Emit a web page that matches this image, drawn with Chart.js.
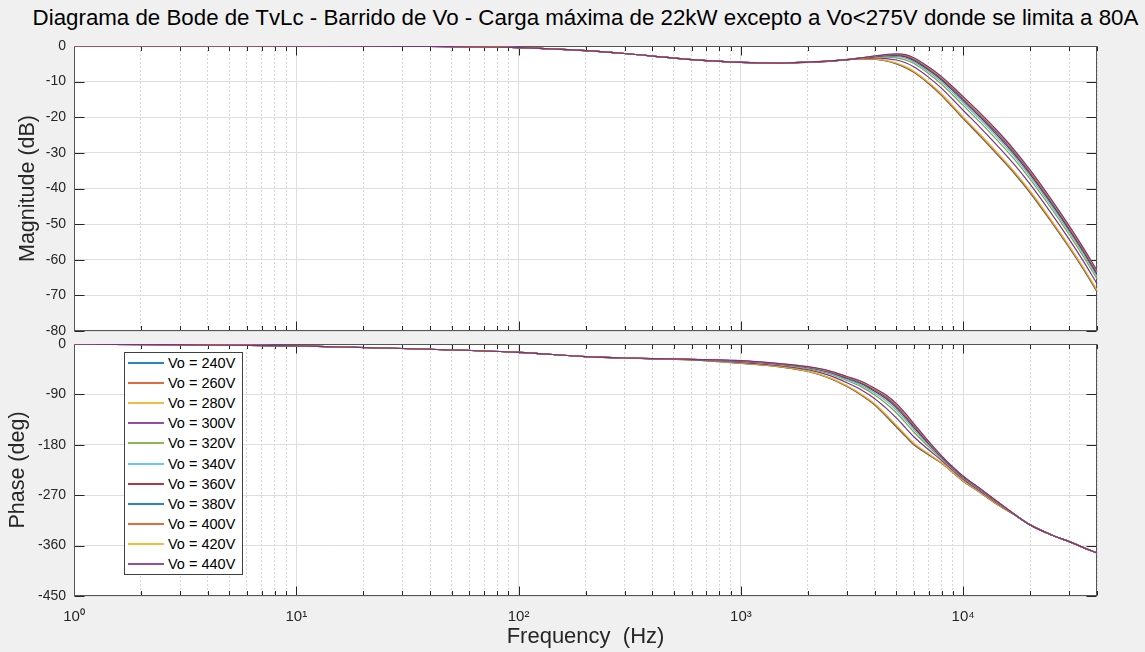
<!DOCTYPE html>
<html><head><meta charset="utf-8">
<script src="https://cdn.jsdelivr.net/npm/chart.js@4.4.1/dist/chart.umd.min.js"></script>
<style>
html,body{margin:0;padding:0;background:#f0f0f0;width:1145px;height:652px;overflow:hidden;font-family:"Liberation Sans",Arial,sans-serif;}
#title{position:absolute;left:0;width:1171px;top:5px;line-height:26px;text-align:center;font-size:22.3px;color:#000;white-space:nowrap;}
#c1{position:absolute;left:0;top:0;}
#c2{position:absolute;left:0;top:334px;}
#legend{position:absolute;left:124px;top:352px;width:117px;height:221px;background:#fff;border:1px solid #404040;box-sizing:content-box;}
.row{position:absolute;left:0;height:20px;width:117px;}
.row .ln{position:absolute;left:3px;width:36px;top:9px;height:2px;opacity:0.85;}
.row .tx{position:absolute;left:43px;top:1px;font-size:14.5px;line-height:18px;color:#000;white-space:nowrap;}
</style></head>
<body>
<div id="title">Diagrama de Bode de TvLc - Barrido de Vo - Carga máxima de 22kW excepto a Vo&lt;275V donde se limita a 80A</div>
<canvas id="c1" width="1145" height="340"></canvas>
<canvas id="c2" width="1145" height="318"></canvas>
<div id="legend"></div>
<script>
// ---------------- DATA ----------------
const freqHz = [1, 3, 10, 30, 100, 200, 300, 500, 700, 1000, 1500, 2000, 2500, 3000, 3500, 4000, 4500, 5000, 5500, 6000, 7000, 8000, 9000, 10000, 12000, 14000, 17000, 20000, 25000, 30000, 35000, 40000];

const seriesNames = ['Vo = 240V','Vo = 260V','Vo = 280V','Vo = 300V','Vo = 320V','Vo = 340V','Vo = 360V','Vo = 380V','Vo = 400V','Vo = 420V','Vo = 440V'];

// Magnitude (dB)
const mag240 = [0, 0, -0.02, -0.1, -0.45, -1.3, -2.1, -3.4, -4.1, -4.6, -4.8, -4.6, -4.3, -3.9, -3.6, -3.7, -4.2, -5.0, -6.1, -7.4, -10.6, -13.9, -17.3, -20.4, -25.5, -30.0, -35.8, -41.2, -49.5, -56.6, -63.0, -69.0];
const mag260 = [0, 0, -0.02, -0.1, -0.45, -1.3, -2.1, -3.4, -4.1, -4.6, -4.8, -4.6, -4.3, -3.9, -3.6, -3.67, -4.15, -4.92, -5.99, -7.28, -10.46, -13.74, -17.13, -20.21, -25.3, -29.8, -35.6, -41.0, -49.31, -56.42, -62.82, -68.82];
const mag280 = [0, 0, -0.02, -0.1, -0.45, -1.3, -2.1, -3.4, -4.1, -4.6, -4.8, -4.6, -4.3, -3.9, -3.58, -3.63, -4.06, -4.78, -5.8, -7.07, -10.22, -13.48, -16.84, -19.9, -24.98, -29.46, -35.27, -40.69, -49.0, -56.11, -62.52, -68.52];
const mag300 = [0, 0, -0.02, -0.1, -0.45, -1.3, -2.1, -3.4, -4.1, -4.6, -4.8, -4.56, -4.26, -3.86, -3.49, -3.36, -3.52, -3.94, -4.69, -5.84, -8.81, -11.89, -15.1, -18.04, -23.03, -27.45, -33.29, -38.77, -47.11, -54.28, -60.72, -66.72];
const mag320 = [0, 0, -0.02, -0.1, -0.45, -1.3, -2.1, -3.4, -4.1, -4.6, -4.8, -4.54, -4.24, -3.84, -3.42, -3.16, -3.12, -3.32, -3.88, -4.94, -7.78, -10.72, -13.82, -16.68, -21.6, -25.98, -31.84, -37.36, -45.72, -52.94, -59.4, -65.4];
const mag340 = [0, 0, -0.02, -0.1, -0.45, -1.3, -2.1, -3.4, -4.1, -4.6, -4.8, -4.53, -4.23, -3.83, -3.38, -3.05, -2.9, -2.98, -3.44, -4.45, -7.22, -10.08, -13.12, -15.94, -20.82, -25.18, -31.05, -36.59, -44.96, -52.21, -58.68, -64.68];
const mag360 = [0, 0, -0.02, -0.1, -0.45, -1.3, -2.1, -3.4, -4.1, -4.6, -4.8, -4.52, -4.22, -3.82, -3.35, -2.96, -2.72, -2.7, -3.07, -4.04, -6.75, -9.55, -12.54, -15.32, -20.17, -24.51, -30.39, -35.95, -44.33, -51.6, -58.08, -64.08];
const mag380 = [0, 0, -0.02, -0.1, -0.45, -1.3, -2.1, -3.4, -4.1, -4.6, -4.8, -4.51, -4.21, -3.81, -3.33, -2.9, -2.6, -2.51, -2.81, -3.75, -6.42, -9.18, -12.14, -14.88, -19.72, -24.04, -29.93, -35.5, -43.89, -51.17, -57.66, -63.66];
const mag400 = [0, 0, -0.02, -0.1, -0.45, -1.3, -2.1, -3.4, -4.1, -4.6, -4.8, -4.51, -4.21, -3.81, -3.32, -2.85, -2.51, -2.37, -2.62, -3.55, -6.18, -8.92, -11.85, -14.57, -19.39, -23.7, -29.6, -35.18, -43.58, -50.87, -57.36, -63.36];
const mag420 = [0, 0, -0.02, -0.1, -0.45, -1.3, -2.1, -3.4, -4.1, -4.6, -4.8, -4.5, -4.2, -3.8, -3.31, -2.83, -2.45, -2.28, -2.51, -3.42, -6.04, -8.76, -11.67, -14.39, -19.2, -23.5, -29.4, -34.99, -43.39, -50.68, -57.18, -63.18];
const mag440 = [0, 0, -0.02, -0.1, -0.45, -1.3, -2.1, -3.4, -4.1, -4.6, -4.8, -4.5, -4.2, -3.8, -3.3, -2.8, -2.4, -2.2, -2.4, -3.3, -5.9, -8.6, -11.5, -14.2, -19.0, -23.3, -29.2, -34.8, -43.2, -50.5, -57.0, -63.0];

// Phase (deg)
const ph240 = [-0.4, -1.1, -3.5, -8, -15, -22.5, -25, -27.5, -30, -34.5, -41, -49, -61, -76, -92, -109, -129, -148, -165, -180, -198, -213, -230, -245, -266, -285, -305, -323, -341, -353, -364, -373];
const ph260 = [-0.4, -1.1, -3.5, -8, -15, -22.5, -25, -27.5, -29.9, -34.4, -40.8, -48.7, -60.6, -75.5, -91.3, -108.1, -127.9, -146.7, -163.8, -178.9, -197.3, -212.6, -229.7, -244.7, -265.8, -284.8, -305, -323, -341, -353, -364, -373];
const ph280 = [-0.4, -1.1, -3.5, -8, -15, -22.5, -25, -27.4, -29.8, -34.1, -40.5, -48.3, -60, -74.6, -90, -106.6, -126, -144.6, -161.7, -177, -196.1, -212, -229.2, -244.3, -265.4, -284.5, -304.9, -323, -341, -353, -364, -373];
const ph300 = [-0.4, -1.1, -3.5, -8, -15, -22.5, -25, -27.1, -29.2, -32.7, -38.7, -45.8, -56.1, -69.2, -82.5, -97.6, -114.6, -132, -149.4, -165.6, -188.9, -208.1, -226.2, -241.6, -263.3, -282.7, -304.6, -323, -341, -353, -364, -373];
const ph320 = [-0.4, -1.1, -3.5, -8, -15, -22.5, -25, -26.9, -28.8, -31.7, -37.4, -43.9, -53.2, -65.2, -77, -91, -106.2, -122.8, -140.4, -157.2, -183.6, -205.2, -224, -239.6, -261.8, -281.4, -304.4, -323, -341, -353, -364, -373];
const ph340 = [-0.4, -1.1, -3.5, -8, -15, -22.5, -25, -26.8, -28.6, -31.1, -36.7, -42.9, -51.6, -63, -74, -87.4, -101.6, -117.8, -135.5, -152.6, -180.7, -203.6, -222.8, -238.5, -261, -280.7, -304.3, -323, -341, -353, -364, -373];
const ph360 = [-0.4, -1.1, -3.5, -8, -15, -22.5, -25, -26.7, -28.4, -30.6, -36.1, -42, -50.3, -61.2, -71.5, -84.4, -97.8, -113.6, -131.4, -148.8, -178.3, -202.3, -221.8, -237.6, -260.3, -280.1, -304.2, -323, -341, -353, -364, -373];
const ph380 = [-0.4, -1.1, -3.5, -8, -15, -22.5, -25, -26.6, -28.2, -30.3, -35.7, -41.4, -49.4, -60, -69.8, -82.3, -95.2, -110.6, -128.5, -146.2, -176.6, -201.4, -221.1, -237, -259.8, -279.7, -304.1, -323, -341, -353, -364, -373];
const ph400 = [-0.4, -1.1, -3.5, -8, -15, -22.5, -25, -26.6, -28.1, -30.1, -35.4, -41, -48.8, -59.1, -68.5, -80.8, -93.3, -108.5, -126.5, -144.3, -175.4, -200.8, -220.6, -236.5, -259.4, -279.4, -304.1, -323, -341, -353, -364, -373];
const ph420 = [-0.4, -1.1, -3.5, -8, -15, -22.5, -25, -26.5, -28.1, -29.9, -35.2, -40.8, -48.4, -58.5, -67.8, -79.9, -92.1, -107.3, -125.2, -143.1, -174.7, -200.4, -220.3, -236.3, -259.2, -279.2, -304, -323, -341, -353, -364, -373];
const ph440 = [-0.4, -1.1, -3.5, -8, -15, -22.5, -25, -26.5, -28, -29.8, -35, -40.5, -48, -58, -67, -79, -91, -106, -124, -142, -174, -200, -220, -236, -259, -279, -304, -323, -341, -353, -364, -373];

// Axis ticks / labels
const xMajorTicks = [1, 10, 100, 1000, 10000];
const xTickLabels = ['10\u2070', '10\u00b9', '10\u00b2', '10\u00b3', '10\u2074'];
const xMin = 1, xMax = 40000;
const magTicks = [0, -10, -20, -30, -40, -50, -60, -70, -80];
const phaseTicks = [0, -90, -180, -270, -360, -450];

const seriesColors = ['#0072BD','#D95319','#EDB120','#7E2F8E','#77AC30','#4DBEEE','#A2142F','#0072BD','#D95319','#EDB120','#7E2F8E'];

const magSeries = [mag240, mag260, mag280, mag300, mag320, mag340, mag360, mag380, mag400, mag420, mag440];
const phSeries = [ph240, ph260, ph280, ph300, ph320, ph340, ph360, ph380, ph400, ph420, ph440];

// ---------------- CHARTS ----------------
Chart.defaults.font.family = '"Liberation Sans", Arial, sans-serif';
Chart.defaults.color = '#262626';

function allXTicks() {
  const t = [];
  for (let d = 1; d <= 10000; d *= 10) {
    for (let k = 1; k <= 9; k++) { const v = d * k; if (v <= xMax) t.push(v); }
  }
  return t;
}
const isMajor = v => xMajorTicks.includes(v);

function makeDatasets(arrs) {
  return arrs.map((a, i) => ({
    label: seriesNames[i],
    data: freqHz.map((f, j) => ({x: f, y: a[j]})),
    borderColor: seriesColors[i],
    borderWidth: 1.2,
    pointRadius: 0,
    fill: false,
    cubicInterpolationMode: 'monotone',
    order: arrs.length - i
  }));
}

const boxPlugin = {
  id: 'matlabBox',
  beforeDraw(chart) {
    const {ctx, chartArea: a} = chart;
    ctx.save();
    ctx.fillStyle = '#ffffff';
    ctx.fillRect(a.left, a.top, a.right - a.left, a.bottom - a.top);
    ctx.restore();
  },
  beforeDatasetsDraw(chart) {
    const {ctx, chartArea: a, scales: {x, y}} = chart;
    ctx.save();
    ctx.strokeStyle = '#262626';
    ctx.lineWidth = 1;
    ctx.beginPath();
    const L = Math.round(a.left) + 0.5, R = Math.round(a.right) - 0.5;
    const T = Math.round(a.top) + 0.5, B = Math.round(a.bottom) - 0.5;
    x.ticks.forEach(t => {
      const px = Math.round(x.getPixelForValue(t.value)) + 0.5;
      const len = isMajor(t.value) ? 9 : 4.5;
      ctx.moveTo(px, B); ctx.lineTo(px, B - len);
      ctx.moveTo(px, T); ctx.lineTo(px, T + len);
    });
    y.ticks.forEach(t => {
      const py = Math.round(y.getPixelForValue(t.value)) + 0.5;
      ctx.moveTo(L, py); ctx.lineTo(L + 10, py);
      ctx.moveTo(R, py); ctx.lineTo(R - 10, py);
    });
    ctx.stroke();
    ctx.strokeStyle = '#555555';
    ctx.strokeRect(L, T, R - L, B - T);
    ctx.restore();
  }
};

const gridX = {
  color: c => (c.tick && isMajor(c.tick.value)) ? '#dedede' : '#d6d6d6',
  lineWidth: 1,
  drawTicks: false
};
const borderX = {
  display: false,
  dash: c => (c.tick && isMajor(c.tick.value)) ? [] : [2, 2]
};

function xScale(showLabels, fitH, withTitle) {
  return {
    type: 'logarithmic',
    min: xMin, max: xMax,
    afterBuildTicks: s => { s.ticks = allXTicks().map(v => ({value: v})); },
    afterFit: s => { s.height = fitH; s.paddingLeft = 0; s.paddingRight = 0; },
    grid: gridX,
    border: borderX,
    ticks: {
      display: showLabels,
      autoSkip: false, maxRotation: 0, minRotation: 0,
      padding: 12,
      font: {size: 15},
      color: '#262626',
      callback: v => { const i = xMajorTicks.indexOf(v); return i >= 0 ? xTickLabels[i] : ''; }
    },
    title: withTitle ? {display: true, text: 'Frequency  (Hz)', font: {size: 22}, color: '#262626', padding: 0} : {display: false}
  };
}

function yScale(ticks, fitW, title) {
  return {
    min: ticks[ticks.length - 1], max: ticks[0],
    afterBuildTicks: s => { s.ticks = ticks.map(v => ({value: v})); },
    afterFit: s => { s.width = fitW; s.paddingTop = 0; s.paddingBottom = 0; },
    grid: {color: '#dedede', lineWidth: 1, drawTicks: false},
    border: {display: false},
    ticks: {padding: 8, font: {size: 14}, color: '#262626'},
    title: {display: true, text: title, font: {size: 21.5}, color: '#262626', padding: 0}
  };
}

const common = {
  responsive: false,
  maintainAspectRatio: false,
  animation: false,
  events: [],
  plugins: {legend: {display: false}, tooltip: {enabled: false}, title: {display: false}}
};

new Chart(document.getElementById('c1'), {
  type: 'line',
  data: {datasets: makeDatasets(magSeries)},
  options: Object.assign({}, common, {
    layout: {padding: {left: 15, top: 46, right: 48, bottom: 0}},
    scales: {
      x: xScale(false, 9, false),
      y: yScale(magTicks, 59, 'Magnitude (dB)')
    }
  }),
  plugins: [boxPlugin]
});

new Chart(document.getElementById('c2'), {
  type: 'line',
  data: {datasets: makeDatasets(phSeries)},
  options: Object.assign({}, common, {
    layout: {padding: {left: 5, top: 10, right: 48, bottom: 2}},
    scales: {
      x: xScale(true, 54, true),
      y: yScale(phaseTicks, 69, 'Phase (deg)')
    }
  }),
  plugins: [boxPlugin]
});

// legend
const lg = document.getElementById('legend');
seriesNames.forEach((n, i) => {
  const r = document.createElement('div');
  r.className = 'row';
  r.style.top = Math.round(i * 20.1) + 'px';
  r.innerHTML = '<div class="ln" style="background:' + seriesColors[i] + '"></div><div class="tx">' + n + '</div>';
  lg.appendChild(r);
});
</script>
</body></html>
